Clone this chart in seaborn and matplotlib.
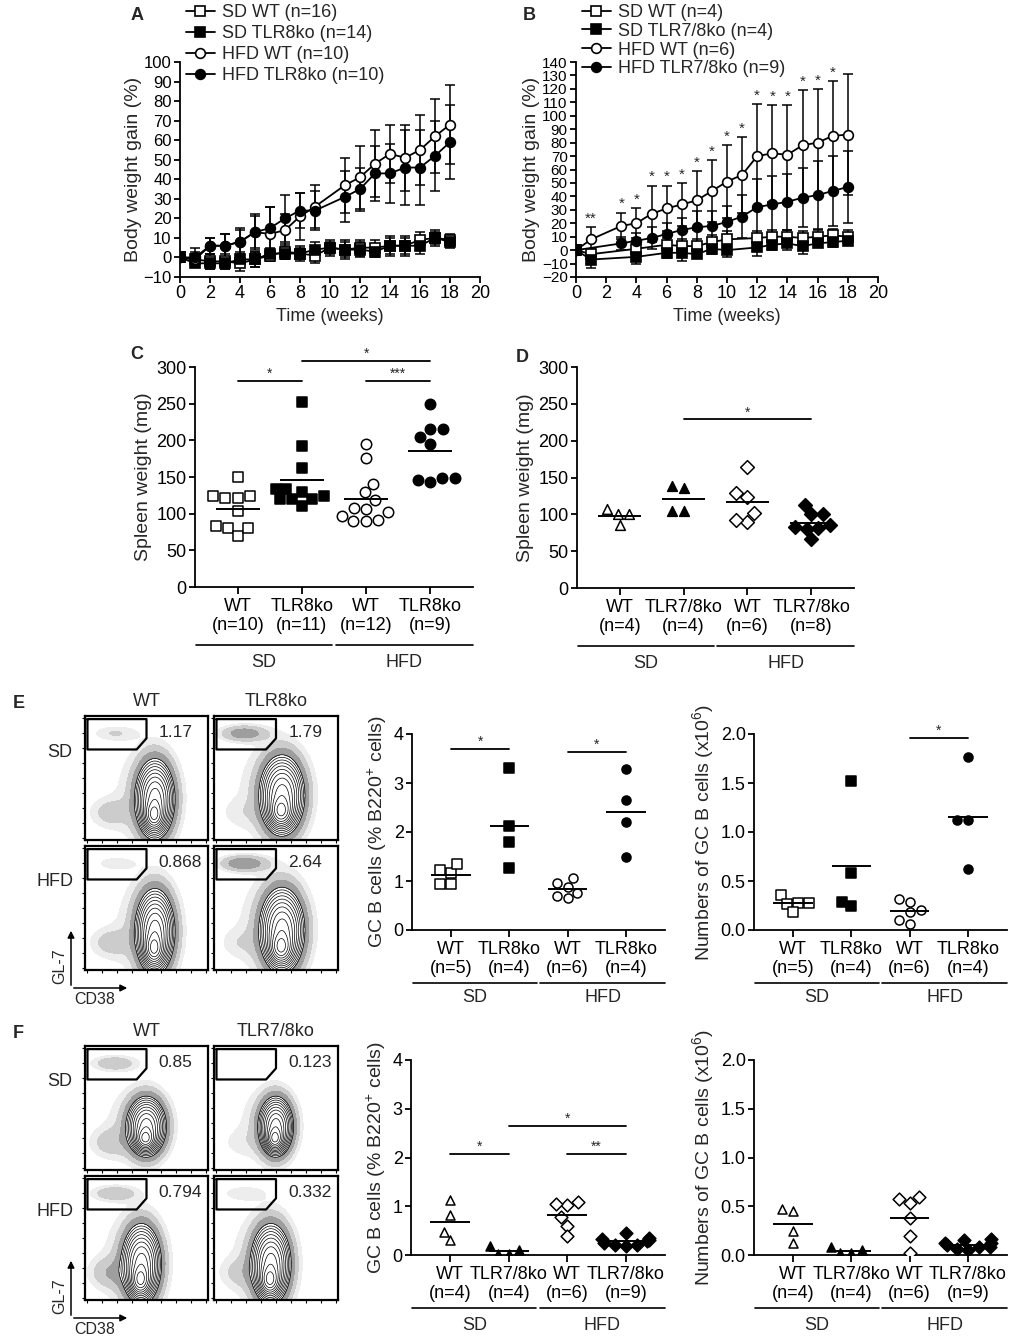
import numpy as np
import pandas as pd
import matplotlib
matplotlib.use("Agg")
import matplotlib.pyplot as plt
import matplotlib.patches as mpatches
import matplotlib.transforms as mtransforms
from matplotlib.lines import Line2D
import seaborn as sns

# --- A: body weight gain, TLR8ko ----------------------------------------------
A_WEEKS_SD = list(range(0, 19))
A_WEEKS_HFD = [0, 1, 2, 3, 4, 5, 6, 7, 8, 9, 11, 12, 13, 14, 15, 16, 17, 18]
A_SD_WT = [0, -1, -2, -2, -3, -1, 1, 3, 2, 1, 5, 4, 5, 5, 6, 6, 9, 10, 9]
A_SD_WT_ERR = [0, 3, 4, 4, 4, 4, 3, 4, 4, 4, 4, 5, 4, 4, 5, 5, 4, 3, 3]
A_SD_KO = [0, -3, -3, -3, -1, -1, 2, 2, 2, 4, 5, 4, 4, 3, 6, 6, 6, 10, 8]
A_SD_KO_ERR = [0, 2, 3, 3, 4, 4, 3, 3, 3, 4, 3, 4, 4, 3, 4, 4, 4, 4, 3]
A_HFD_WT = [0, -1, 6, 6, 8, 13, 12, 14, 21, 26, 37, 41, 48, 53, 51, 55, 62, 68]
A_HFD_WT_ERR = [0, 4, 4, 6, 7, 9, 14, 8, 12, 11, 14, 16, 17, 15, 17, 18, 19, 20]
A_HFD_KO = [0, 0, 6, 6, 8, 13, 15, 20, 24, 24, 31, 35, 43, 43, 46, 46, 52, 59]
A_HFD_KO_ERR = [0, 5, 4, 6, 6, 8, 11, 12, 9, 10, 13, 11, 14, 15, 19, 19, 18, 19]
A_LABELS = ["SD WT (n=16)", "SD TLR8ko (n=14)", "HFD WT (n=10)", "HFD TLR8ko (n=10)"]

# --- B: body weight gain, TLR7/8ko --------------------------------------------
B_WEEKS_SD = [0, 1, 4, 6, 7, 8, 9, 10, 12, 13, 14, 15, 16, 17, 18]
B_SD_WT = [0, -3, 1, 4, 3, 3, 6, 8, 9, 10, 10, 9, 10, 11, 10]
B_SD_WT_ERR = [0, 4, 5, 5, 5, 5, 5, 6, 5, 5, 5, 5, 5, 5, 5]
B_SD_KO = [0, -7, -5, -2, -2, -3, 1, 0, 2, 4, 5, 3, 5, 6, 7]
B_SD_KO_ERR = [0, 6, 5, 4, 6, 3, 4, 5, 6, 4, 5, 6, 3, 4, 3]
B_WEEKS_HFD_WT = [0, 1, 3, 4, 5, 6, 7, 8, 9, 10, 11, 12, 13, 14, 15, 16, 17, 18]
B_HFD_WT = [0, 8, 18, 20, 27, 31, 34, 37, 44, 51, 56, 70, 72, 71, 78, 80, 85, 86]
B_HFD_WT_ERR = [0, 9, 10, 11, 21, 17, 16, 22, 23, 27, 28, 39, 36, 37, 41, 40, 41, 45]
B_WEEKS_HFD_KO = [0, 3, 4, 5, 6, 7, 8, 9, 10, 11, 12, 13, 14, 15, 16, 17, 18]
B_HFD_KO = [0, 5, 7, 9, 12, 15, 17, 18, 21, 25, 32, 34, 36, 39, 41, 44, 47]
B_HFD_KO_ERR = [0, 5, 6, 8, 8, 9, 12, 11, 12, 16, 21, 21, 21, 22, 25, 26, 27]
B_STARS = ["", "**", "*", "*", "*", "*", "*", "*", "*", "*", "*", "*", "*", "*", "*", "*", "*", ""]
B_LABELS = ["SD WT (n=4)", "SD TLR7/8ko (n=4)", "HFD WT (n=6)", "HFD TLR7/8ko (n=9)"]

# --- C / D: spleen weight ------------------------------------------------------
C_VALUES = [
    [150, 122, 124, 124, 122, 103, 80, 70, 80, 83],
    [252, 192, 162, 134, 134, 130, 124, 120, 120, 120, 110],
    [195, 176, 141, 129, 119, 108, 102, 107, 97, 92, 90, 90],
    [250, 215, 216, 204, 195, 148, 143, 146, 149],
]
C_TICKS = ["WT\n(n=10)", "TLR8ko\n(n=11)", "WT\n(n=12)", "TLR8ko\n(n=9)"]
C_SIG = [(0, 1, 281, "*"), (1, 3, 308, "*"), (2, 3, 281, "***")]

D_VALUES = [
    [100, 107, 100, 85],
    [138, 136, 105, 105],
    [164, 129, 124, 102, 89, 92],
    [100, 85, 82, 100, 80, 83, 113, 66],
]
D_TICKS = ["WT\n(n=4)", "TLR7/8ko\n(n=4)", "WT\n(n=6)", "TLR7/8ko\n(n=8)"]
D_SIG = [(1, 3, 229, "*")]

# --- E: GC B cells, TLR8ko -----------------------------------------------------
E_PCT = [
    [1.23, 1.17, 1.35, 0.93, 0.93],
    [3.3, 2.12, 1.8, 1.27],
    [0.95, 0.88, 1.07, 0.75, 0.65, 0.7],
    [3.28, 2.65, 2.2, 1.48],
]
E_NUM = [
    [0.28, 0.36, 0.27, 0.28, 0.18],
    [1.52, 0.58, 0.24, 0.29],
    [0.32, 0.29, 0.2, 0.18, 0.1, 0.06],
    [1.77, 1.12, 1.12, 0.62],
]
E_TICKS = ["WT\n(n=5)", "TLR8ko\n(n=4)", "WT\n(n=6)", "TLR8ko\n(n=4)"]
E_PCT_SIG = [(0, 1, 3.69, "*"), (2, 3, 3.63, "*")]
E_NUM_SIG = [(2, 3, 1.96, "*")]
E_GATE_VALUES = ["1.17", "1.79", "0.868", "2.64"]
E_COLS = ["WT", "TLR8ko"]

# --- F: GC B cells, TLR7/8ko ---------------------------------------------------
F_PCT = [
    [1.12, 0.82, 0.48, 0.3],
    [0.1, 0.03, 0.03, 0.18],
    [1.08, 1.02, 1.05, 0.78, 0.6, 0.38],
    [0.45, 0.35, 0.3, 0.25, 0.2, 0.18, 0.2, 0.28, 0.33],
]
F_NUM = [
    [0.45, 0.47, 0.25, 0.12],
    [0.05, 0.02, 0.02, 0.08],
    [0.57, 0.53, 0.59, 0.38, 0.2, 0.02],
    [0.15, 0.12, 0.1, 0.08, 0.05, 0.06, 0.08, 0.12, 0.16],
]
F_TICKS = ["WT\n(n=4)", "TLR7/8ko\n(n=4)", "WT\n(n=6)", "TLR7/8ko\n(n=9)"]
F_PCT_SIG = [(0, 1, 2.07, "*"), (1, 3, 2.65, "*"), (2, 3, 2.08, "**")]
F_GATE_VALUES = ["0.85", "0.123", "0.794", "0.332"]
F_COLS = ["WT", "TLR7/8ko"]

ROWS = ["SD", "HFD"]

# flow plot look: centre x, centre y, spread x, spread y, left tail, gate cluster
E_FLOW = [
    [0.57, 0.33, 0.08, 0.16, 1.0, 0.5],
    [0.55, 0.36, 0.09, 0.16, 0.4, 1.4],
    [0.57, 0.31, 0.08, 0.17, 1.0, 0.35],
    [0.55, 0.32, 0.09, 0.17, 0.5, 1.6],
]
F_FLOW = [
    [0.50, 0.35, 0.08, 0.12, 1.0, 0.9],
    [0.50, 0.35, 0.07, 0.12, 0.4, 0.2],
    [0.46, 0.29, 0.08, 0.16, 1.2, 0.9],
    [0.46, 0.29, 0.08, 0.16, 0.7, 0.4],
]
GATE_X = [0.02, 0.50, 0.50, 0.42, 0.02, 0.02]
GATE_Y = [0.975, 0.975, 0.82, 0.73, 0.73, 0.975]

sns.set_style("ticks")
plt.rcParams["font.family"] = ["Liberation Sans", "DejaVu Sans"]
plt.rcParams["mathtext.default"] = "regular"
plt.rcParams["font.size"] = 13
plt.rcParams["axes.linewidth"] = 1.3
plt.rcParams["xtick.major.width"] = 1.3
plt.rcParams["ytick.major.width"] = 1.3
plt.rcParams["xtick.major.size"] = 4
plt.rcParams["ytick.major.size"] = 4
plt.rcParams["xtick.color"] = "black"
plt.rcParams["ytick.color"] = "black"
plt.rcParams["axes.edgecolor"] = "black"

TXT = 13
YLAB = 14
W, H = 1014, 1339
fig = plt.figure(figsize=(W / 100, H / 100), dpi=100)


def px_axes(left, top, right, bottom):
    return fig.add_axes([left / W, 1 - bottom / H, (right - left) / W, (bottom - top) / H])


def px_text(x, y, s, **kw):
    fig.text(x / W, 1 - y / H, s, **kw)


def growth_panel(ax, series, labels, ylim, step, leg_y, leg_space, ytick_size):
    styles = [("s", "white"), ("s", "black"), ("o", "white"), ("o", "black")]
    handles = []
    for (weeks, vals, errs), (mk, fc), lab in zip(series, styles, labels):
        ax.errorbar(weeks, vals, yerr=errs, fmt="none", ecolor="black",
                    elinewidth=1.1, capsize=3.5, capthick=1.1, zorder=2)
        sns.lineplot(x=weeks, y=vals, ax=ax, color="black", linewidth=1.3,
                     marker=mk, markerfacecolor=fc, markeredgecolor="black",
                     markersize=7, markeredgewidth=1.2, zorder=3)
        handles.append(Line2D([], [], color="black", lw=1.3, marker=mk, mfc=fc,
                              mec="black", ms=7, mew=1.2, label=lab))
    ax.set_xlim(0, 20)
    ax.set_ylim(*ylim)
    ax.set_xticks(range(0, 21, 2))
    ax.set_yticks(range(ylim[0], ylim[1] + 1, step))
    ax.set_xlabel("Time (weeks)", fontsize=TXT)
    ax.set_ylabel("Body weight gain (%)", fontsize=YLAB, labelpad=1)
    ax.tick_params(axis="x", labelsize=TXT, pad=2)
    ax.tick_params(axis="y", labelsize=ytick_size, pad=2)
    sns.despine(ax=ax)
    ax.legend(handles=handles, loc="upper left", bbox_to_anchor=(0.02, leg_y),
              frameon=False, handlelength=1.6, handletextpad=0.4,
              labelspacing=leg_space, borderaxespad=0, borderpad=0, fontsize=TXT)


def group_labels(ax, groups, line_px, text_px):
    base = mtransforms.blended_transform_factory(ax.transData, ax.transAxes)
    t_line = mtransforms.offset_copy(base, fig=fig, y=-line_px, units="dots")
    t_text = mtransforms.offset_copy(base, fig=fig, y=-text_px, units="dots")
    for x0, x1, name in groups:
        ax.plot([x0, x1], [0, 0], transform=t_line, clip_on=False, color="black", lw=1.2)
        ax.text((x0 + x1) / 2, 0, name, transform=t_text, ha="center", va="center", fontsize=TXT)


def dot_panel(ax, values, ticks, ylim, yticks, ylabel, sig, markers, size,
              line_px=58, text_px=75, fmt=None):
    cats = ["g0", "g1", "g2", "g3"]
    for i, vals in enumerate(values):
        sub = pd.DataFrame({"grp": cats[i], "val": vals})
        mk, fc = markers[i]
        sns.swarmplot(data=sub, x="grp", y="val", order=cats, ax=ax, marker=mk,
                      color=fc, edgecolor="black", linewidth=1.1, size=size, zorder=3)
        ax.hlines(np.mean(vals), i - 0.34, i + 0.34, color="black", lw=1.4, zorder=4)
    for a, b, y, star in sig:
        ax.plot([a, b], [y, y], color="black", lw=1.3, clip_on=False)
        ax.text((a + b) / 2, y, star, ha="center", va="bottom", fontsize=10)
    ax.set_xlim(-0.67, 3.67)
    ax.set_ylim(*ylim)
    ax.set_yticks(yticks)
    if fmt:
        ax.set_yticklabels([fmt.format(v) for v in yticks])
    ax.set_xticks(range(4))
    ax.set_xticklabels(ticks, linespacing=1.15, fontsize=TXT)
    ax.set_xlabel("")
    ax.set_ylabel(ylabel, fontsize=YLAB, labelpad=3)
    ax.tick_params(axis="y", labelsize=TXT, pad=2)
    ax.tick_params(axis="x", length=5, pad=3)
    sns.despine(ax=ax)
    group_labels(ax, [(-0.65, 1.47, "SD"), (1.53, 3.67, "HFD")], line_px, text_px)


def flow_panel(ax, p, value):
    cx, cy, sx, sy, tail, gate = p
    xs = np.linspace(0, 1, 260)
    xx, yy = np.meshgrid(xs, xs)
    core = np.exp(-0.5 * (((xx - cx) / sx) ** 2 + ((yy - cy) / sy) ** 2))
    low = np.exp(-0.5 * (((xx - cx + 0.01) / (sx * 0.55)) ** 2 + ((yy - cy + sy * 0.85) / (sy * 0.4)) ** 2))
    halo = np.exp(-0.5 * (((xx - cx + 0.05) / (sx * 2.3)) ** 2 + ((yy - cy - 0.02) / (sy * 1.75)) ** 2))
    left = np.exp(-0.5 * (((xx - 0.2) / 0.11) ** 2 + ((yy - 0.22) / 0.08) ** 2))
    gc = np.exp(-0.5 * (((xx - 0.24) / 0.12) ** 2 + ((yy - 0.86) / 0.04) ** 2))
    dens = core + 0.9 * low + 0.05 * halo + 0.05 * tail * left + 0.08 * gate * gc
    ax.contourf(xx, yy, dens, levels=[0.02, 0.04, 0.08, 0.15],
                colors=["0.93", "0.8", "0.62"])
    ax.contour(xx, yy, dens, levels=np.geomspace(0.15, 1.8, 12), colors="black",
               linewidths=0.5)
    ax.plot(GATE_X, GATE_Y, color="black", lw=1.6)
    ax.text(0.6, 0.87, value, ha="left", va="center", fontsize=12.5)
    ax.set_xlim(0, 1)
    ax.set_ylim(0, 1)
    ax.set_xticks(np.linspace(0.02, 0.98, 9))
    ax.set_yticks(np.linspace(0.02, 0.98, 9))
    ax.set_xticklabels([])
    ax.set_yticklabels([])
    ax.tick_params(length=2, width=0.8)
    for sp in ax.spines.values():
        sp.set_linewidth(1.6)


def flow_block(top, params, values, cols, letter):
    boxes_x = [(85, 208), (214, 338)]
    boxes_y = [(top, top + 124), (top + 130, top + 254)]
    k = 0
    for y0, y1 in boxes_y:
        for x0, x1 in boxes_x:
            ax = px_axes(x0, y0, x1, y1)
            flow_panel(ax, params[k], values[k])
            k += 1
    for c, (x0, x1) in enumerate(boxes_x):
        px_text((x0 + x1) / 2, top - 14, cols[c], ha="center", va="center", fontsize=TXT)
    px_text(60, top + 36, ROWS[0], ha="center", va="center", fontsize=TXT)
    px_text(55, top + 166, ROWS[1], ha="center", va="center", fontsize=TXT)
    px_text(13, top - 12, letter, ha="left", va="center", fontsize=13, fontweight="bold")
    # GL-7 / CD38 axis arrows
    cy = top + 272
    fig.patches.append(mpatches.FancyArrowPatch(
        (71 / W, 1 - cy / H), (71 / W, 1 - (cy - 60) / H), transform=fig.transFigure,
        arrowstyle="-|>", mutation_scale=10, color="black", lw=1.1))
    fig.patches.append(mpatches.FancyArrowPatch(
        (71 / W, 1 - cy / H), (130 / W, 1 - cy / H), transform=fig.transFigure,
        arrowstyle="-|>", mutation_scale=10, color="black", lw=1.1))
    px_text(60, cy - 22, "GL-7", ha="center", va="center", rotation=90, fontsize=11.5)
    px_text(95, cy + 12, "CD38", ha="center", va="center", fontsize=11.5)


# --- A & B ---------------------------------------------------------------------
axA = px_axes(180, 62, 480, 277)
growth_panel(axA, [(A_WEEKS_SD, A_SD_WT, A_SD_WT_ERR), (A_WEEKS_SD, A_SD_KO, A_SD_KO_ERR),
                   (A_WEEKS_HFD, A_HFD_WT, A_HFD_WT_ERR), (A_WEEKS_HFD, A_HFD_KO, A_HFD_KO_ERR)],
             A_LABELS, (-10, 100), 10, 1.27, 0.22, 12)

axB = px_axes(576, 62, 878, 277)
growth_panel(axB, [(B_WEEKS_SD, B_SD_WT, B_SD_WT_ERR), (B_WEEKS_SD, B_SD_KO, B_SD_KO_ERR),
                   (B_WEEKS_HFD_WT, B_HFD_WT, B_HFD_WT_ERR), (B_WEEKS_HFD_KO, B_HFD_KO, B_HFD_KO_ERR)],
             B_LABELS, (-20, 140), 10, 1.27, 0.1, 11)
for wk, v, e, s in zip(B_WEEKS_HFD_WT, B_HFD_WT, B_HFD_WT_ERR, B_STARS):
    if s:
        axB.text(wk, v + e + 1, s, ha="center", va="bottom", fontsize=11)

# --- C & D ---------------------------------------------------------------------
sq_circ = [("s", "white"), ("s", "black"), ("o", "white"), ("o", "black")]
tri_dia = [("^", "white"), ("^", "black"), ("D", "white"), ("D", "black")]

axC = px_axes(195, 367, 473, 587)
dot_panel(axC, C_VALUES, C_TICKS, (0, 300), range(0, 301, 50), "Spleen weight (mg)",
          C_SIG, sq_circ, 7.5)
axD = px_axes(577, 367, 854, 588)
dot_panel(axD, D_VALUES, D_TICKS, (0, 300), range(0, 301, 50), "Spleen weight (mg)",
          D_SIG, tri_dia, 7)

# --- E ---------------------------------------------------------------------------
flow_block(716, E_FLOW, E_GATE_VALUES, E_COLS, "E")
axE1 = px_axes(412, 734, 665, 930)
dot_panel(axE1, E_PCT, E_TICKS, (0, 4), [0, 1, 2, 3, 4], "GC B cells (% B220$^{+}$ cells)",
          E_PCT_SIG, sq_circ, 6.5, 53, 68)
axE2 = px_axes(754, 734, 1007, 930)
dot_panel(axE2, E_NUM, E_TICKS, (0, 2), [0, 0.5, 1.0, 1.5, 2.0],
          "Numbers of GC B cells (x10$^{6}$)", E_NUM_SIG, sq_circ, 6.5, 53, 68,
          fmt="{:.1f}")

# --- F ---------------------------------------------------------------------------
flow_block(1046, F_FLOW, F_GATE_VALUES, F_COLS, "F")
axF1 = px_axes(411, 1060, 665, 1255)
dot_panel(axF1, F_PCT, F_TICKS, (0, 4), [0, 1, 2, 3, 4], "GC B cells (% B220$^{+}$ cells)",
          F_PCT_SIG, tri_dia, 6.5, 53, 70)
axF2 = px_axes(754, 1060, 1007, 1255)
dot_panel(axF2, F_NUM, F_TICKS, (0, 2), [0, 0.5, 1.0, 1.5, 2.0],
          "Numbers of GC B cells (x10$^{6}$)", [], tri_dia, 6.5, 53, 70, fmt="{:.1f}")

# panel letters
for lx, ly, letter in [(137, 15, "A"), (529, 15, "B"), (137, 355, "C"), (522, 357, "D")]:
    px_text(lx, ly, letter, ha="center", va="center", fontsize=13, fontweight="bold")

fig.savefig("out.png", dpi=100, facecolor="white")
